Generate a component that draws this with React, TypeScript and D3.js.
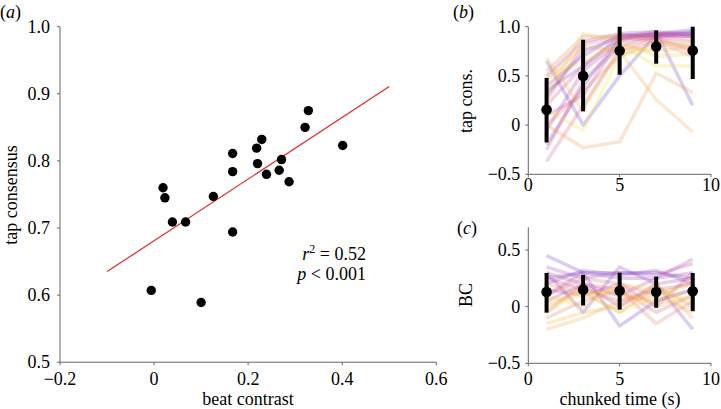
import React from "react";
import * as d3 from "d3";

// Panel (a): beat contrast vs tap consensus
const beatContrast = [-0.006, 0.019, 0.023, 0.039, 0.067, 0.100, 0.126, 0.167, 0.167, 0.167, 0.218, 0.220, 0.229, 0.239, 0.266, 0.271, 0.287, 0.321, 0.328, 0.401];
const tapConsensus = [0.607, 0.760, 0.745, 0.709, 0.709, 0.589, 0.747, 0.811, 0.784, 0.694, 0.819, 0.796, 0.832, 0.780, 0.786, 0.802, 0.769, 0.850, 0.875, 0.823];
const fitX = [-0.1, 0.5];
const fitY = [0.635, 0.911];
const aXTicks = [-0.2, 0, 0.2, 0.4, 0.6];
const aYTicks = [0.5, 0.6, 0.7, 0.8, 0.9, 1.0];

// Panels (b) and (c): chunked time
const chunkTimes = [1, 3, 5, 7, 9];
const tapSubjects = [
  [0.65, 0.0, 0.5, 0.92, 0.93],
  [0.3, 0.75, 0.9, 0.95, 0.2],
  [-0.2, 0.4, 0.88, 0.93, 0.97],
  [0.35, 0.6, 0.9, 0.92, 0.95],
  [0.4, 0.7, 0.92, 0.9, 0.93],
  [-0.05, 0.55, 0.85, 0.9, 0.9],
  [0.5, 0.85, 0.93, 0.95, 0.92],
  [0.1, 0.3, 0.87, 0.92, 0.9],
  [-0.25, 0.45, 0.8, 0.9, 0.85],
  [0.2, 0.6, 0.88, 0.93, 0.9],
  [-0.37, 0.2, 0.75, 0.88, 0.8],
  [0.25, 0.82, 0.9, 0.88, 0.75],
  [0.0, 0.35, 0.7, 0.85, 0.7],
  [0.55, 0.9, 0.9, 0.85, 0.78],
  [0.0, -0.23, -0.17, 0.53, 0.33],
  [0.45, 0.8, 0.75, 0.26, -0.07],
  [0.68, 0.15, 0.8, 0.75, 0.8],
  [0.3, 0.93, 0.85, 0.7, 0.72],
  [0.5, 0.65, 0.82, 0.6, 0.6],
  [0.15, -0.05, 0.7, 0.8, 0.85],
];
const tapMean = [0.157, 0.50, 0.756, 0.80, 0.757];
const tapLow = [-0.176, 0.14, 0.512, 0.624, 0.468];
const tapHigh = [0.48, 0.868, 1.0, 0.962, 1.0];

const bcSubjects = [
  [0.45, 0.3, 0.3, 0.3, 0.25],
  [0.25, 0.3, -0.17, 0.05, 0.15],
  [0.3, -0.05, 0.35, 0.2, -0.2],
  [0.2, 0.32, 0.28, 0.32, 0.2],
  [0.1, 0.3, 0.25, 0.25, 0.3],
  [0.35, 0.25, 0.3, 0.28, 0.38],
  [0.05, 0.2, 0.0, 0.2, 0.25],
  [0.3, 0.2, 0.1, 0.25, 0.42],
  [0.15, 0.1, 0.2, 0.0, 0.3],
  [0.25, 0.15, 0.05, 0.15, 0.2],
  [-0.05, 0.2, 0.15, -0.05, 0.1],
  [0.1, 0.25, 0.2, 0.1, 0.22],
  [-0.1, 0.05, 0.15, -0.15, 0.05],
  [0.2, 0.12, -0.05, 0.18, 0.0],
  [0.0, 0.15, 0.1, 0.05, 0.15],
  [-0.2, -0.1, 0.05, 0.1, -0.05],
  [-0.15, -0.05, 0.0, 0.2, -0.1],
  [0.05, 0.1, 0.15, 0.0, 0.1],
  [0.1, 0.0, 0.2, 0.15, 0.05],
  [-0.05, 0.15, -0.05, 0.1, 0.2],
];
const bcMean = [0.13, 0.15, 0.14, 0.13, 0.135];
const bcLow = [-0.053, 0.01, -0.026, -0.01, -0.04];
const bcHigh = [0.297, 0.28, 0.30, 0.265, 0.297];

const timeTicks = [0, 5, 10];
const bYTicks = [-0.5, 0, 0.5, 1.0];
const cYTicks = [-0.5, 0, 0.5];

const FONT = "'Liberation Serif', 'Times New Roman', serif";
const AXIS = "#666";
const FS = 18;

const palette = d3.interpolateRgbBasis(["#6a3fd0", "#a040b8", "#e0508a", "#f5a040", "#f2e040"]);

const fmt = (v: number) => {
  if (v === 0) return "0";
  const s = Math.abs(v).toFixed(1);
  return v < 0 ? "\u2212" + s : s;
};
const fmtT = (v: number) => String(v);

function YAxis({ x, scale, ticks, format, gap }: any) {
  const [r0, r1] = scale.range();
  return (
    <g>
      <line x1={x} x2={x} y1={r0} y2={r1} stroke={AXIS} strokeWidth={1} />
      {ticks.map((t: number) => (
        <g key={t}>
          <line x1={x - 3} x2={x} y1={scale(t)} y2={scale(t)} stroke={AXIS} />
          <text x={x - gap} y={scale(t) + 6} textAnchor="end" fontSize={FS} fontFamily={FONT}>
            {format(t)}
          </text>
        </g>
      ))}
    </g>
  );
}

function XAxis({ y, scale, ticks, format, labelY }: any) {
  const [r0, r1] = scale.range();
  return (
    <g>
      <line x1={r0} x2={r1} y1={y} y2={y} stroke={AXIS} strokeWidth={1} />
      {ticks.map((t: number) => (
        <g key={t}>
          <line x1={scale(t)} x2={scale(t)} y1={y} y2={y + 3} stroke={AXIS} />
          <text x={scale(t)} y={labelY} textAnchor="middle" fontSize={FS} fontFamily={FONT}>
            {format(t)}
          </text>
        </g>
      ))}
    </g>
  );
}

function TimePanel({ y, subjects, mean, low, high, yTicks, yLabel, labelYc, showXTitle, xLabelY, panelLabel, plx, ply }: any) {
  const x = d3.scaleLinear().domain([0, 10]).range([528.3, 711]);
  const line = d3.line<number>().x((_, i) => x(chunkTimes[i])).y((v) => y(v));
  const n = subjects.length;
  return (
    <g>
      {subjects.map((s: number[], i: number) => (
        <path key={i} d={line(s) || ""} fill="none" stroke={palette(i / (n - 1))} strokeOpacity={0.26} strokeWidth={3.5} strokeLinejoin="round" />
      ))}
      {chunkTimes.map((t, i) => (
        <g key={t}>
          <line x1={x(t)} x2={x(t)} y1={y(low[i])} y2={y(high[i])} stroke="#000" strokeWidth={4} />
          <circle cx={x(t)} cy={y(mean[i])} r={5.3} fill="#000" />
        </g>
      ))}
      <YAxis x={528.3} scale={y} ticks={yTicks} format={fmt} gap={8} />
      <XAxis y={y.range()[0]} scale={x} ticks={timeTicks} format={fmtT} labelY={xLabelY} />
      <text transform={`translate(472,${labelYc}) rotate(-90)`} textAnchor="middle" fontSize={FS} fontFamily={FONT}>
        {yLabel}
      </text>
      {showXTitle && (
        <text x={620} y={405} textAnchor="middle" fontSize={FS} fontFamily={FONT}>
          chunked time (s)
        </text>
      )}
      <text x={plx} y={ply} fontSize={FS} fontFamily={FONT}>
        (<tspan fontStyle="italic">{panelLabel}</tspan>)
      </text>
    </g>
  );
}

export default function App() {
  const ax = d3.scaleLinear().domain([-0.2, 0.6]).range([60, 436.3]);
  const ay = d3.scaleLinear().domain([0.5, 1.0]).range([362.2, 26.7]);
  const by = d3.scaleLinear().domain([-0.5, 1.0]).range([174.3, 26.7]);
  const cy = d3.scaleLinear().domain([-0.5, 0.7]).range([363.3, 227.3]);

  return (
    <div style={{ position: "absolute", left: 0, top: 0 }}>
      <svg width={721} height={409} style={{ display: "block", background: "#fff" }}>
        {/* Panel (a) */}
        <g>
          <line x1={ax(fitX[0])} y1={ay(fitY[0])} x2={ax(fitX[1])} y2={ay(fitY[1])} stroke="#e02828" strokeWidth={1.2} />
          {beatContrast.map((v, i) => (
            <circle key={i} cx={ax(v)} cy={ay(tapConsensus[i])} r={4.7} fill="#000" />
          ))}
          <YAxis x={60} scale={ay} ticks={aYTicks} format={(v: number) => v.toFixed(1)} gap={10} />
          <XAxis y={362.2} scale={ax} ticks={aXTicks} format={fmt} labelY={385} />
          <text transform="translate(17,195) rotate(-90)" textAnchor="middle" fontSize={FS} fontFamily={FONT}>
            tap consensus
          </text>
          <text x={248} y={405} textAnchor="middle" fontSize={FS} fontFamily={FONT}>
            beat contrast
          </text>
          <text x={366} y={260} textAnchor="end" fontSize={FS} fontFamily={FONT}>
            <tspan fontStyle="italic">r</tspan>
            <tspan dy={-7} fontSize={12}>2</tspan>
            <tspan dy={7}> = 0.52</tspan>
          </text>
          <text x={366} y={280} textAnchor="end" fontSize={FS} fontFamily={FONT}>
            <tspan fontStyle="italic">p</tspan> {"<"} 0.001
          </text>
          <text x={0} y={18} fontSize={FS} fontFamily={FONT}>
            (<tspan fontStyle="italic">a</tspan>)
          </text>
        </g>
        <TimePanel y={by} subjects={tapSubjects} mean={tapMean} low={tapLow} high={tapHigh} yTicks={bYTicks}
          yLabel="tap cons." labelYc={101} showXTitle={false} xLabelY={191} panelLabel="b" plx={453} ply={18} />
        <TimePanel y={cy} subjects={bcSubjects} mean={bcMean} low={bcLow} high={bcHigh} yTicks={cYTicks}
          yLabel="BC" labelYc={295} showXTitle={true} xLabelY={385} panelLabel="c" plx={457} ply={234} />
      </svg>
    </div>
  );
}
